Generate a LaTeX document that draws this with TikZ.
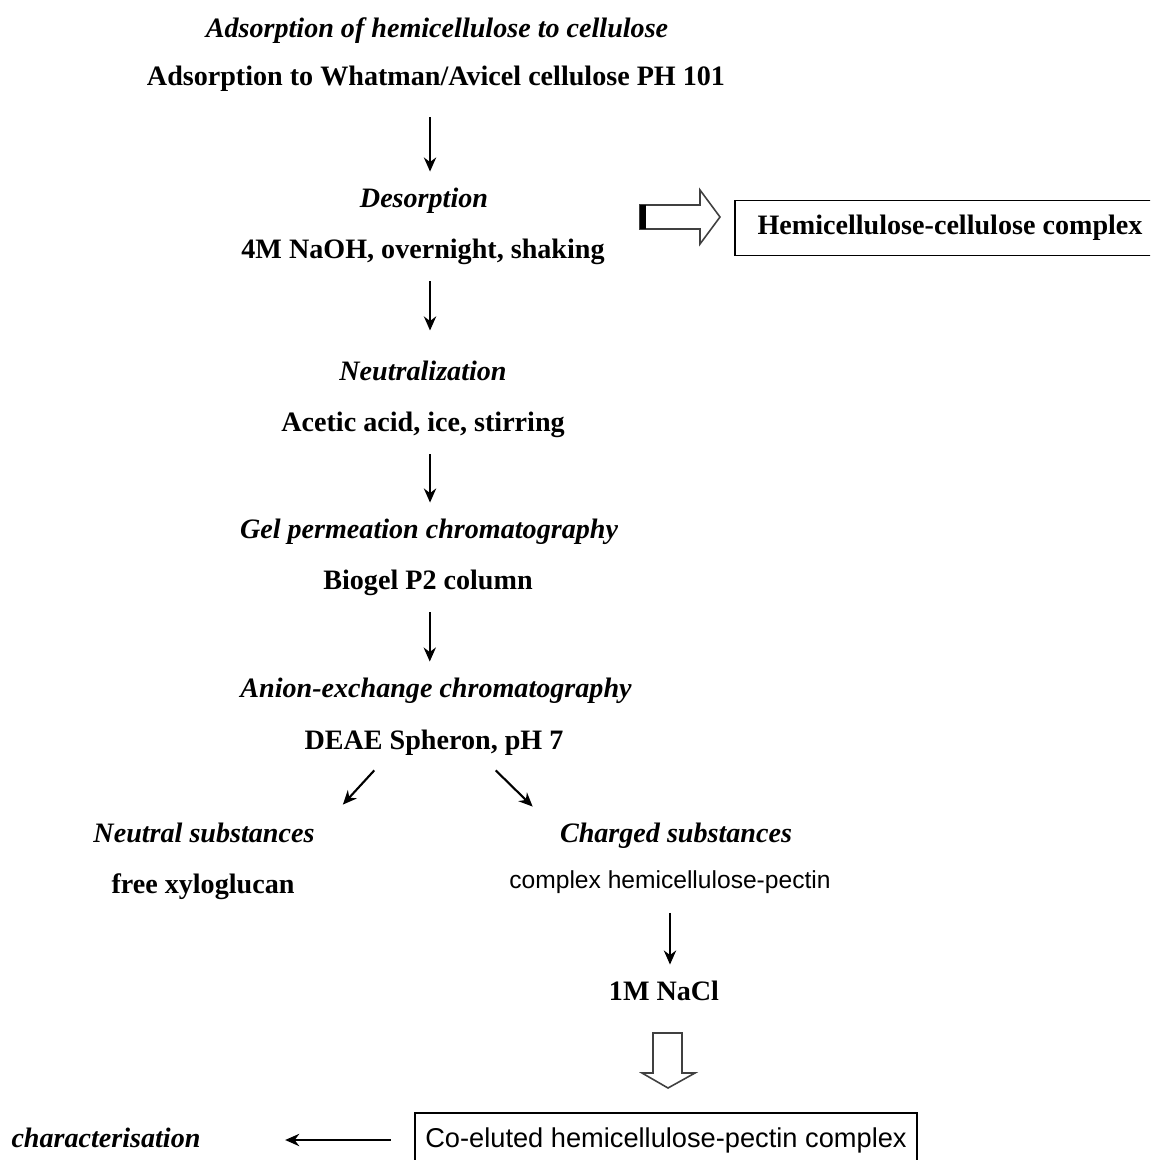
\documentclass[tikz,border=0pt]{standalone}
\usepackage{fontspec}
\setmainfont{Liberation Serif}
\newfontfamily\arialfont{Liberation Sans}
\usetikzlibrary{arrows.meta,calc}

\begin{document}
\begin{tikzpicture}[x=0.02cm,y=-0.02cm,
    stephead/.style={font=\fontsize{16}{19}\selectfont\bfseries\itshape,
                     inner sep=0pt, text height=12pt, text depth=4pt},
    stepinfo/.style={font=\fontsize{16}{19}\selectfont\bfseries,
                     inner sep=0pt, text height=12pt, text depth=4pt},
    sansinfo/.style={font=\arialfont\fontsize{14}{17}\selectfont,
                     inner sep=0pt, text height=11pt, text depth=3pt},
    result/.style={draw, line width=1.1pt, inner sep=0pt},
    flow/.style={-{Stealth[length=8pt,width=7pt]}, line width=1.2pt,
                 shorten <=9pt, shorten >=8pt},
    hollow/.style={draw=black!75, line width=0.9pt, fill=white}]

    \useasboundingbox (0,0) rectangle (1150,1160);
    \clip (0,0) rectangle (1150,1160);

    % main column
    \node[stephead] (adsT) at (437,  30) {Adsorption of hemicellulose to cellulose};
    \node[stepinfo] (adsD) at (436,  78) {Adsorption to Whatman/Avicel cellulose PH 101};
    \node[stephead] (desT) at (424, 200) {Desorption};
    \node[stepinfo] (desD) at (423, 251) {4M NaOH, overnight, shaking};
    \node[stephead] (neuT) at (423, 373) {Neutralization};
    \node[stepinfo] (neuD) at (423, 424) {Acetic acid, ice, stirring};
    \node[stephead] (gelT) at (429, 531) {Gel permeation chromatography};
    \node[stepinfo] (gelD) at (428, 582) {Biogel P2 column};
    \node[stephead] (aniT) at (436, 690) {Anion-exchange chromatography};
    \node[stepinfo] (aniD) at (434, 742) {DEAE Spheron, pH 7};

    % side result of desorption
    \node[result, minimum width=8.6cm, minimum height=1.1cm,
          font=\fontsize{16}{19}\selectfont\bfseries] (hcBox) at (950, 228)
          {Hemicellulose-cellulose complex};

    % two fractions
    \node[stephead] (neuS) at (204, 835) {Neutral substances};
    \node[stepinfo] (xylo) at (203, 886) {free xyloglucan};
    \node[stephead] (chS)  at (676, 835) {Charged substances};
    \node[sansinfo] (cplx) at (670, 881) {complex hemicellulose-pectin};
    \node[stepinfo] (nacl) at (664, 993) {1M NaCl};

    % final complex
    \node[result, minimum width=10.06cm, minimum height=1.08cm,
          font=\arialfont\fontsize{15.5}{18}\selectfont] (coBox) at (666, 1140)
          {Co-eluted hemicellulose-pectin complex};
    \node[stephead] (charT) at (106, 1140) {characterisation};

    % arrow feet under the step texts
    \coordinate (f1) at ([xshift=-3.4pt]adsD.south);
    \coordinate (f2) at ([xshift=4pt]desD.south);
    \coordinate (f3) at ([xshift=4pt]neuD.south);
    \coordinate (f4) at ([xshift=1pt]gelD.south);

    % arrows
    \draw[flow, shorten <=14pt] (f1) -- (f1 |- desT.north);
    \draw[flow, shorten >=16pt] (f2) -- (f2 |- neuT.north);
    \draw[flow] (f3) -- (f3 |- gelT.north);
    \draw[flow] (f4) -- (f4 |- aniT.north);
    \draw[flow, shorten <=0pt, shorten >=0pt]
        ([shift={(70,14)}]aniD.south west) -- ([shift={(28,-16)}]neuS.north east);
    \draw[flow, shorten <=0pt, shorten >=0pt]
        ([shift={(-68,14)}]aniD.south east) -- ([shift={(-27,-14)}]chS.north west);
    \draw[flow, shorten <=11pt] (cplx.south) -- (cplx.south |- nacl.north);
    \draw[flow, shorten <=13pt, shorten >=48pt] (coBox.west) -- (charT.east);

    % hollow arrow to the side box
    \coordinate (sideTail) at (640, 217);
    \draw[hollow] (sideTail) ++(0,-12) -- ++(60,0) -- ++(0,-15) -- ++(20,27)
        -- ++(-20,27) -- ++(0,-15) -- ++(-60,0) -- cycle;
    \fill (sideTail) ++(0,-12) rectangle ++(6,24);

    % hollow arrow down to the final box
    \coordinate (downTail) at (668, 1033);
    \draw[hollow] (downTail) ++(-15,0) -- ++(29,0) -- ++(0,40) -- ++(13,0)
        -- ++(-27,15) -- ++(-26,-15) -- ++(11,0) -- cycle;
\end{tikzpicture}
\end{document}
